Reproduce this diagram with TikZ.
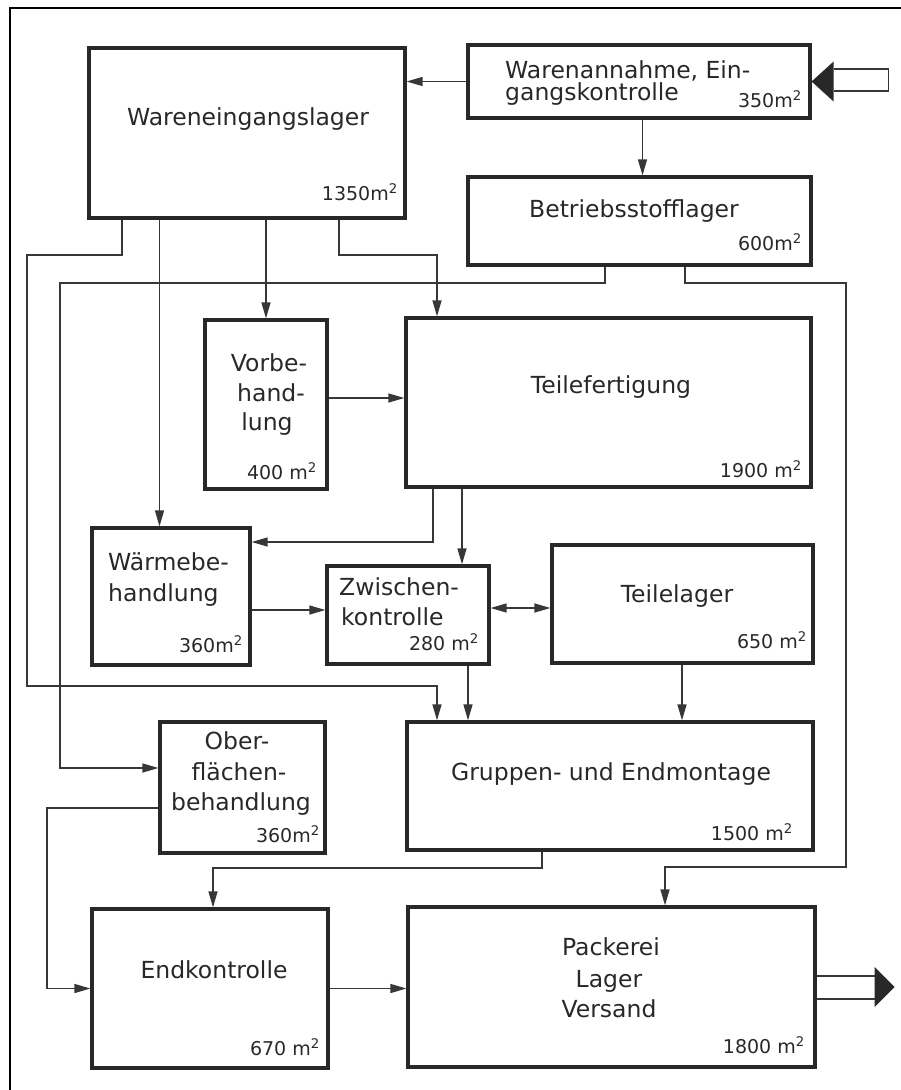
\documentclass[tikz,border=0pt]{standalone}
\usepackage{fontspec}
\setmainfont{DejaVu Sans}
\usetikzlibrary{arrows.meta}
\definecolor{ink}{RGB}{40,40,40}
\definecolor{wire}{RGB}{55,55,55}

\begin{document}
\begin{tikzpicture}[x=1pt,y=-1pt,
  box/.style={draw=ink, line width=3.2pt, rectangle, inner sep=0pt},
  dept/.style={font=\fontsize{23.5}{28}\selectfont, text=ink, inner sep=0pt, anchor=base},
  area/.style={font=\fontsize{19}{22}\selectfont, text=ink, inner sep=0pt, anchor=base east},
  flowtip/.tip={Triangle[length=16pt,width=9pt]},
  conn/.style={draw=wire, line width=1.3pt, -flowtip},
  broad/.style={draw=wire, line width=1.3pt},
]
\useasboundingbox (0,0) rectangle (901,1090);

% frame of the sheet
\draw[black, line width=2.5pt] (10,1090) -- (10,8) -- (901,8);

% departments
\node[box, minimum width=316pt, minimum height=170pt] (we) at (247,133) {};
\node[box, minimum width=342pt, minimum height=73pt]  (wa) at (639,81.5) {};
\node[box, minimum width=343pt, minimum height=88pt]  (bs) at (639.5,221) {};
\node[box, minimum width=122pt, minimum height=169pt] (vb) at (266,404.5) {};
\node[box, minimum width=405pt, minimum height=169pt] (tf) at (608.5,402.5) {};
\node[box, minimum width=158pt, minimum height=137pt] (wb) at (171,596.5) {};
\node[box, minimum width=162pt, minimum height=98pt]  (zk) at (408,615) {};
\node[box, minimum width=261pt, minimum height=118pt] (tl) at (682.5,604) {};
\node[box, minimum width=165pt, minimum height=131pt] (ob) at (242.5,787.5) {};
\node[box, minimum width=406pt, minimum height=128pt] (gm) at (610,786) {};
\node[box, minimum width=236pt, minimum height=159pt] (ek) at (210,988.5) {};
\node[box, minimum width=407pt, minimum height=160pt] (pk) at (611.5,987) {};

% department names
\node[dept] (we-t) at (248,125) {Wareneingangslager};
\node[dept, anchor=base west] (wa-t1) at (505,78) {Warenannahme, Ein-};
\node[dept, anchor=base west] (wa-t2) at (505,100) {gangskontrolle};
\node[dept] (bs-t) at (634,217) {Betriebsstofflager};
\node[dept] (vb-t1) at (269,371) {Vorbe-};
\node[dept] (vb-t2) at (271,401) {hand-};
\node[dept] (vb-t3) at (267,430) {lung};
\node[dept] (tf-t) at (611,393) {Teilefertigung};
\node[dept, anchor=base west] (wb-t1) at (108,570) {Wärmebe-};
\node[dept, anchor=base west] (wb-t2) at (108,601) {handlung};
\node[dept, anchor=base west] (zk-t1) at (339,595) {Zwischen-};
\node[dept, anchor=base west] (zk-t2) at (341,625) {kontrolle};
\node[dept] (tl-t) at (677,602) {Teilelager};
\node[dept] (ob-t1) at (237,749) {Ober-};
\node[dept] (ob-t2) at (239,780) {flächen-};
\node[dept] (ob-t3) at (241,810) {behandlung};
\node[dept] (gm-t) at (611,780) {Gruppen- und Endmontage};
\node[dept] (ek-t) at (214,978) {Endkontrolle};
\node[dept] (pk-t1) at (611,955) {Packerei};
\node[dept] (pk-t2) at (609,987) {Lager};
\node[dept] (pk-t3) at (609,1017) {Versand};

% floor areas
\node[area] (we-a) at (398,200) {1350m\textsuperscript{2}};
\node[area] (wa-a) at (802,107) {350m\textsuperscript{2}};
\node[area] (bs-a) at (802,250) {600m\textsuperscript{2}};
\node[area] (vb-a) at (317,479) {400 m\textsuperscript{2}};
\node[area] (tf-a) at (802,477) {1900 m\textsuperscript{2}};
\node[area] (wb-a) at (243,652) {360m\textsuperscript{2}};
\node[area] (zk-a) at (479,650) {280 m\textsuperscript{2}};
\node[area] (tl-a) at (807,648) {650 m\textsuperscript{2}};
\node[area] (ob-a) at (320,842) {360m\textsuperscript{2}};
\node[area] (gm-a) at (793,840) {1500 m\textsuperscript{2}};
\node[area] (ek-a) at (320,1055) {670 m\textsuperscript{2}};
\node[area] (pk-a) at (805,1053) {1800 m\textsuperscript{2}};

% material flow
\draw[conn] (wa.west) -- (wa.west -| we.east);
\draw[conn] ([xshift=3.5pt]wa.south) -- ([xshift=3pt]bs.north);
\draw[conn] ([xshift=-34.5pt]bs.south) |- (60,283) |- ([yshift=19.5pt]ob.west);
\draw[conn] ([xshift=45.5pt]bs.south) |- (846,283) |- (665,867) -- ([xshift=53.5pt]pk.north);
\draw[conn] ([xshift=-125pt]we.south) |- (27,255) |- (437,686) -- ([xshift=-173pt]gm.north);
\draw[conn] ([xshift=-87.5pt]we.south) -- ([xshift=-11.5pt]wb.north);
\draw[conn] ([xshift=19pt]we.south) -- (vb.north);
\draw[conn] ([xshift=92pt]we.south) |- (437,255) -- ([xshift=-171.5pt]tf.north);
\draw[conn] ([yshift=6.5pt]vb.east) -- ([yshift=4.5pt]tf.west);
\draw[conn] ([xshift=-175.5pt]tf.south) |- ([yshift=54.5pt]wb.east);
\draw[conn] ([xshift=-146.5pt]tf.south) -- ([xshift=54pt]zk.north);
\draw[conn] ([yshift=-13.5pt]wb.east) -- ([yshift=5pt]zk.west);
\draw[conn, flowtip-flowtip] ([yshift=7pt]zk.east) -- ([yshift=-4pt]tl.west);
\draw[conn] ([xshift=60pt]zk.south) -- ([xshift=-142pt]gm.north);
\draw[conn] ([xshift=-0.5pt]tl.south) -- ([xshift=72pt]gm.north);
\draw[conn] ([yshift=-20.5pt]ob.west) -| (47,988.5) -- (ek.west);
\draw[conn] ([xshift=-68pt]gm.south) |- (213,868) -- ([xshift=3pt]ek.north);
\draw[conn] (ek.east) -- (ek.east -| pk.west);

% goods in
\fill[ink] (wa.east) -- ++(22,-20) -- ++(0,40) -- cycle;
\draw[broad] ([xshift=22pt,yshift=12.5pt]wa.east) -- ++(55,0) -- ++(0,22) -- ++(-55,0);

% goods out
\draw[broad] ([yshift=11pt]pk.east) -- ++(58,0);
\draw[broad] ([yshift=-12pt]pk.east) -- ++(58,0);
\fill[ink] ([xshift=58pt,yshift=20pt]pk.east) -- ++(0,40) -- ++(20,-20) -- cycle;
\end{tikzpicture}
\end{document}
